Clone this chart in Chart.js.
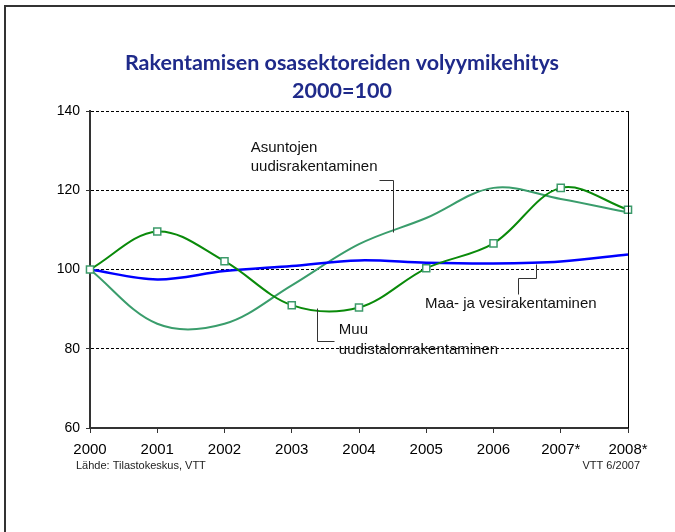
<!DOCTYPE html>
<html>
<head>
<meta charset="utf-8">
<script src="https://cdn.jsdelivr.net/npm/chart.js@4"></script>
<style>
  html, body { margin: 0; padding: 0; background: #fff; }
  #wrap { width: 675px; height: 532px; position: relative; }
</style>
</head>
<body>
<div id="wrap"><canvas id="volChart" width="675" height="532"></canvas></div>
<script>
// vuodet ja indeksit (2000=100)
const years = ['2000', '2001', '2002', '2003', '2004', '2005', '2006', '2007*', '2008*'];
const muuTalo = [100, 109.6, 102.1, 91.0, 90.4, 100.3, 106.6, 120.6, 115.1];
const asunnot = [100, 86.3, 86.3, 96.0, 106.4, 113.0, 120.6, 117.8, 114.4];
const maaVesi = [100, 97.5, 99.6, 100.9, 102.3, 101.7, 101.5, 102.0, 103.8];
const yTicks = [60, 80, 100, 120, 140];

const titleLines = ['Rakentamisen osasektoreiden volyymikehitys', '2000=100'];

// selitteet viivoineen, koordinaatit datayksiköissä (x = vuosi-indeksi, y = arvo)
const notes = [
    { lines: ['Asuntojen', 'uudisrakentaminen'], x: 2.39, y: [130.7, 125.9],
      leader: [[4.30, 122.6], [4.51, 122.6], [4.51, 109.5]] },
    { lines: ['Maa- ja vesirakentaminen'], x: 4.98, y: [91.3],
      leader: [[6.63, 101.4], [6.63, 97.9], [6.36, 97.9], [6.36, 93.8]] },
    { lines: ['Muu', 'uudistalonrakentaminen'], x: 3.70, y: [84.7, 79.7],
      leader: [[3.38, 90.3], [3.38, 82.0], [3.63, 82.0]] }
];

const sans = "'Liberation Sans', Arial, sans-serif";

const decorPlugin = {
    id: 'decor',
    beforeDraw(chart) {
        const ctx = chart.ctx;
        ctx.save();
        ctx.fillStyle = '#fff';
        ctx.fillRect(0, 0, chart.width, chart.height);
        // kehys
        ctx.strokeStyle = '#333';
        ctx.lineWidth = 2;
        ctx.beginPath();
        ctx.moveTo(5, chart.height + 2);
        ctx.lineTo(5, 6);
        ctx.lineTo(chart.width + 2, 6);
        ctx.stroke();
        // otsikko
        ctx.fillStyle = '#1f2a8a';
        ctx.font = "bold 21.5px Lato, 'Open Sans', sans-serif";
        ctx.textAlign = 'center';
        ctx.textBaseline = 'middle';
        ctx.fillText(titleLines[0], 342, 63);
        ctx.fillText(titleLines[1], 342, 91);
        ctx.restore();
    },
    afterDatasetsDraw(chart) {
        const ctx = chart.ctx;
        const xs = chart.scales.x, ys = chart.scales.y;
        const area = chart.chartArea;
        ctx.save();
        // oikea reuna
        ctx.strokeStyle = '#000';
        ctx.lineWidth = 1;
        ctx.beginPath();
        ctx.moveTo(Math.round(area.right) + 0.5, area.top);
        ctx.lineTo(Math.round(area.right) + 0.5, area.bottom);
        ctx.stroke();

        ctx.font = '15px ' + sans;
        ctx.fillStyle = '#111';
        ctx.textAlign = 'left';
        ctx.textBaseline = 'middle';
        notes.forEach(function (n) {
            n.lines.forEach(function (t, i) {
                ctx.fillText(t, xs.getPixelForValue(n.x), ys.getPixelForValue(n.y[i]));
            });
            ctx.strokeStyle = '#333';
            ctx.lineWidth = 1;
            ctx.beginPath();
            n.leader.forEach(function (p, i) {
                const px = Math.round(xs.getPixelForValue(p[0])) + 0.5;
                const py = Math.round(ys.getPixelForValue(p[1])) + 0.5;
                if (i === 0) ctx.moveTo(px, py); else ctx.lineTo(px, py);
            });
            ctx.stroke();
        });

        // lähde
        ctx.font = '11px ' + sans;
        ctx.fillStyle = '#222';
        ctx.textAlign = 'left';
        ctx.fillText('Lähde: Tilastokeskus, VTT', 76, 466);
        ctx.textAlign = 'right';
        ctx.fillText('VTT 6/2007', 640, 466);
        ctx.restore();
    }
};

new Chart(document.getElementById('volChart'), {
    type: 'line',
    data: {
        labels: years,
        datasets: [{
            label: 'Muu uudistalonrakentaminen',
            data: muuTalo,
            borderColor: '#0a8a0a',
            borderWidth: 2,
            tension: 0.35,
            pointStyle: 'rect',
            pointRadius: 5,
            pointBackgroundColor: '#fff',
            pointBorderColor: '#3c9a6a',
            pointBorderWidth: 1.5
        }, {
            label: 'Maa- ja vesirakentaminen',
            data: maaVesi,
            borderColor: '#0000ff',
            borderWidth: 2.5,
            tension: 0.35,
            pointRadius: 0
        }, {
            label: 'Asuntojen uudisrakentaminen',
            data: asunnot,
            borderColor: '#3a9d6c',
            borderWidth: 2,
            tension: 0.35,
            pointRadius: 0
        }]
    },
    options: {
        responsive: false,
        animation: false,
        events: [],
        layout: { padding: { top: 111, right: 47, left: 0, bottom: 0 } },
        plugins: {
            legend: { display: false },
            title: { display: false },
            tooltip: { enabled: false }
        },
        scales: {
            x: {
                offset: false,
                afterFit: function (scale) { scale.height = 104; },
                ticks: {
                    color: '#000',
                    padding: 8,
                    maxRotation: 0,
                    autoSkip: false,
                    font: { family: sans, size: 15 }
                },
                grid: {
                    drawOnChartArea: false,
                    drawTicks: true,
                    tickLength: 5,
                    tickColor: '#333'
                },
                border: { color: '#333', width: 2 }
            },
            y: {
                min: 60,
                max: 140,
                afterFit: function (scale) { scale.width = 90; },
                afterBuildTicks: function (scale) {
                    scale.ticks = yTicks.map(function (v) { return { value: v }; });
                },
                ticks: {
                    color: '#000',
                    padding: 6,
                    font: { family: sans, size: 14 }
                },
                grid: {
                    color: function (c) { return c.tick && c.tick.value === 60 ? 'rgba(0,0,0,0)' : '#000'; },
                    lineWidth: 1,
                    tickLength: 4,
                    tickColor: '#333'
                },
                border: { color: '#333', width: 2, dash: [3, 2] }
            }
        }
    },
    plugins: [decorPlugin]
});
</script>
</body>
</html>
